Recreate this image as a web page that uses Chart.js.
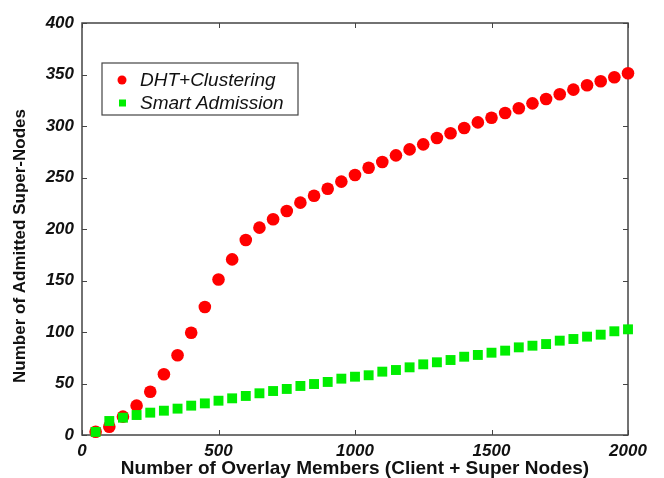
<!DOCTYPE html>
<html>
<head>
<meta charset="utf-8">
<script src="https://cdn.jsdelivr.net/npm/chart.js@4/dist/chart.umd.min.js"></script>
<style>
  body { margin: 0; background: #fff; }
  #wrap { width: 664px; height: 478px; position: relative; }
</style>
</head>
<body>
<div id="wrap"><canvas id="myChart"></canvas></div>
<script>
"use strict";
// overlay size (x) and admitted super-nodes for both schemes
let members = [50, 100, 150, 200, 250, 300, 350, 400, 450, 500,
  550, 600, 650, 700, 750, 800, 850, 900, 950, 1000,
  1050, 1100, 1150, 1200, 1250, 1300, 1350, 1400, 1450, 1500,
  1550, 1600, 1650, 1700, 1750, 1800, 1850, 1900, 1950, 2000];
let dhtArr = [3.2, 8, 17.8, 28.5, 42, 59, 77.4, 99.3, 124.3, 151,
  170.5, 189.3, 201.3, 209.4, 217.5, 225.6, 232.3, 239.1, 246, 252.4,
  259.5, 265, 271.5, 277.3, 282.2, 288.3, 292.9, 298, 303.5, 308,
  312.6, 317.2, 322, 326.2, 330.8, 335.3, 339.5, 343.4, 347.3, 351.2];
let smartArr = [3, 13.6, 16.8, 19.4, 21.7, 23.6, 25.6, 28.5, 30.7, 33.3,
  35.6, 37.9, 40.5, 42.7, 44.7, 47.6, 49.5, 51.5, 54.7, 56.6,
  58, 61.5, 63.1, 65.7, 68.6, 70.6, 72.8, 76, 77.7, 79.9,
  81.9, 85.1, 86.7, 88.3, 91.6, 93.2, 95.5, 97.4, 100.7, 102.6];
let xTicks = [0, 500, 1000, 1500, 2000];
let yTicks = [0, 50, 100, 150, 200, 250, 300, 350, 400];
let seriesNames = ["DHT+Clustering", "Smart Admission"];
let yTitle = "Number of Admitted Super-Nodes";

function toPoints(arr) {
  let pts = [];
  for (let i = 0; i < members.length; i++) {
    pts.push({ x: members[i], y: arr[i] });
  }
  return pts;
}

const FONT = "'Liberation Sans', Arial, sans-serif";

// box round the plot with short inward ticks on every side
let framePlugin = {
  id: "frame",
  beforeDatasetsDraw(chart) {
    let ctx = chart.ctx;
    let a = chart.chartArea;
    let xs = chart.scales.x;
    let ys = chart.scales.y;
    let len = 5;
    ctx.save();
    ctx.strokeStyle = "#444";
    ctx.lineWidth = 1;
    ctx.beginPath();
    for (let v of xTicks) {
      let px = Math.round(xs.getPixelForValue(v)) + 0.5;
      ctx.moveTo(px, a.bottom); ctx.lineTo(px, a.bottom - len);
      ctx.moveTo(px, a.top); ctx.lineTo(px, a.top + len);
    }
    for (let v of yTicks) {
      let py = Math.round(ys.getPixelForValue(v)) + 0.5;
      ctx.moveTo(a.left, py); ctx.lineTo(a.left + len, py);
      ctx.moveTo(a.right, py); ctx.lineTo(a.right - len, py);
    }
    ctx.stroke();
    ctx.lineWidth = 1.5;
    ctx.strokeRect(a.left, a.top, a.right - a.left, a.bottom - a.top);
    ctx.restore();

    // y axis title, sits a bit lower than the axis middle
    ctx.save();
    ctx.translate(20, 246);
    ctx.rotate(-Math.PI / 2);
    ctx.font = "bold 17px " + FONT;
    ctx.fillStyle = "#111";
    ctx.textAlign = "center";
    ctx.textBaseline = "middle";
    ctx.fillText(yTitle, 0, 0);
    ctx.restore();
  },
};

// legend box inside the plot, upper left
let legendBox = {
  id: "legendBox",
  afterDraw(chart) {
    let ctx = chart.ctx;
    let x0 = 102, y0 = 63, w = 196, h = 52;
    ctx.save();
    ctx.fillStyle = "#fff";
    ctx.fillRect(x0, y0, w, h);
    ctx.strokeStyle = "#444";
    ctx.lineWidth = 1.2;
    ctx.strokeRect(x0, y0, w, h);
    ctx.font = "italic 19px " + FONT;
    ctx.textBaseline = "middle";
    let rows = [80, 103];
    for (let i = 0; i < 2; i++) {
      let ds = chart.data.datasets[i];
      ctx.fillStyle = ds.backgroundColor;
      if (ds.pointStyle == "circle") {
        ctx.beginPath();
        ctx.arc(122, rows[i], 4.5, 0, Math.PI * 2);
        ctx.fill();
      } else {
        ctx.fillRect(119, rows[i] - 3.5, 7, 7);
      }
      ctx.fillStyle = "#111";
      ctx.fillText(ds.label, 140, rows[i] + 1);
    }
    ctx.restore();
  },
};

let ctx = document.getElementById("myChart").getContext("2d");
let myChart = new Chart(ctx, {
  type: "scatter",
  data: {
    datasets: [
      {
        label: seriesNames[0],
        data: toPoints(dhtArr),
        backgroundColor: "#ff0000",
        borderColor: "#ff0000",
        pointStyle: "circle",
        pointRadius: 6.3,
        borderWidth: 0,
        clip: false,
        order: 1,
      },
      {
        label: seriesNames[1],
        data: toPoints(smartArr),
        backgroundColor: "#00ee00",
        borderColor: "#00ee00",
        pointStyle: "rect",
        pointRadius: 7,
        borderWidth: 0,
        clip: false,
        order: 0,
      },
    ],
  },
  options: {
    responsive: true,
    maintainAspectRatio: false,
    animation: false,
    layout: { padding: { left: 0, right: 36, top: 23, bottom: 0 } },
    plugins: {
      legend: { display: false },
      tooltip: { enabled: false },
    },
    scales: {
      x: {
        type: "linear",
        min: 0,
        max: 2000,
        afterBuildTicks: (s) => { s.ticks = xTicks.map((v) => ({ value: v })); },
        afterFit: (s) => { s.height = 43; },
        grid: { display: false },
        border: { display: false },
        ticks: {
          color: "#111",
          padding: 0,
          maxRotation: 0,
          callback: (v) => String(v),
          font: { family: FONT, size: 17, style: "italic", weight: "bold", lineHeight: 1 },
        },
        title: {
          display: true,
          text: "Number of Overlay Members (Client + Super Nodes)",
          color: "#111",
          padding: { top: 0, bottom: 0 },
          font: { family: FONT, size: 19, weight: "bold", lineHeight: 1 },
        },
      },
      y: {
        min: 0,
        max: 400,
        afterBuildTicks: (s) => { s.ticks = yTicks.map((v) => ({ value: v })); },
        afterFit: (s) => { s.width = 82; },
        grid: { display: false },
        border: { display: false },
        ticks: {
          color: "#111",
          padding: 0,
          callback: (v) => String(v),
          font: { family: FONT, size: 17, style: "italic", weight: "bold" },
        },
        title: { display: false },
      },
    },
  },
  plugins: [framePlugin, legendBox],
});
</script>
</body>
</html>
